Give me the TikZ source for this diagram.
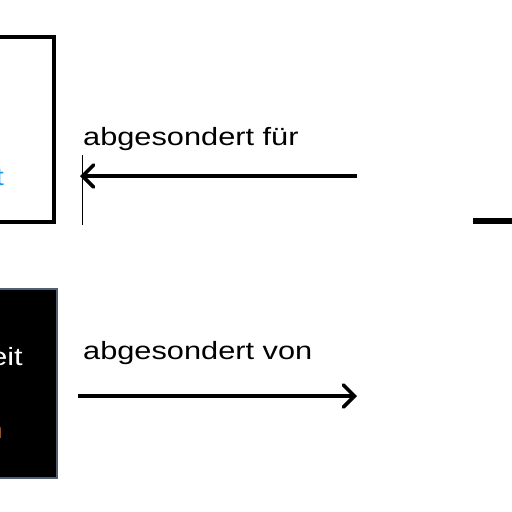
\documentclass[tikz,border=0pt]{standalone}
\usepackage{fontspec}
\setmainfont{Liberation Sans}
\newfontfamily\labelfont[FakeStretch=1.23]{Liberation Sans}
\usepackage{tikz}
\usetikzlibrary{arrows.meta}

\definecolor{boxedge}{RGB}{80,95,115}
\definecolor{cutblue}{RGB}{30,150,225}
\definecolor{cutorange}{RGB}{230,140,80}

\begin{document}
\begin{tikzpicture}[x=1pt,y=-1pt,
    rel/.style={font=\labelfont\fontsize{25}{29}\selectfont, inner sep=0pt},
    relarrow/.style={line width=3.6pt, -{Straight Barb[length=11pt,width=22pt,line cap=round]}}]
                        \useasboundingbox (0,0) rectangle (512,512);
                        \clip (0,0) rectangle (512,512);

                        % Nodes
                        \node[draw, line width=4.5pt, minimum width=220pt, minimum height=185pt, inner sep=0pt] (top) at (-56,129.5) {};
                        \node[draw=boxedge, fill=black, line width=2pt, minimum width=220pt, minimum height=189pt, inner sep=0pt] (bottom) at (-53,383.5) {};
                        \node[rel, text=cutblue, anchor=base east] (topword) at (4,185) {t};
                        \node[rel, text=white, anchor=base east] (bottomword) at (23,365) {eit};
                        \node[rel, text=cutorange, anchor=base east] (bottomword2) at (3,438) {n};
                        \node[rel, anchor=base west] (fuer) at (83,145) {abgesondert f\"ur};
                        \node[rel, anchor=base west] (von) at (83,359) {abgesondert von};

                        \coordinate (fuerStart) at (357,176);
                        \coordinate (fuerEnd) at (80,176);
                        \coordinate (stopTop) at (82,155);
                        \coordinate (stopBottom) at (82,225);
                        \coordinate (vonStart) at (78,396);
                        \coordinate (vonEnd) at (357,396);
                        \coordinate (stubStart) at (473,221);
                        \coordinate (stubEnd) at (520,221);

                        % Edges
                        \draw[relarrow] (fuerStart) -- (fuerEnd);
                        \draw[line width=1pt] (stopTop) -- (stopBottom);
                        \draw[relarrow] (vonStart) -- (vonEnd);
                        \draw[line width=6pt] (stubStart) -- (stubEnd);
                    \end{tikzpicture}
\end{document}
